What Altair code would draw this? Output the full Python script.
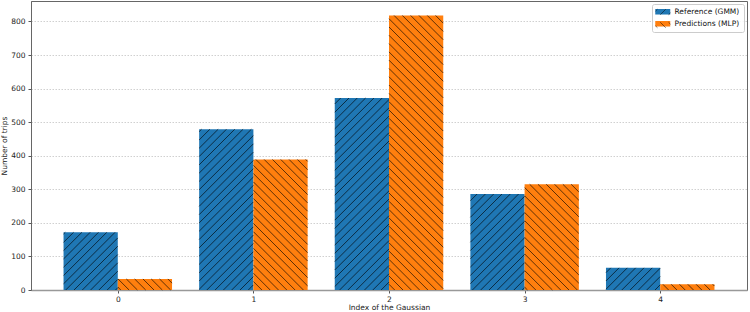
import math
import altair as alt
import pandas as pd

# ---------------- data ----------------
gaussian_index = [0, 1, 2, 3, 4]
reference_gmm = [172, 479, 572, 286, 66]
predictions_mlp = [33, 389, 818, 315, 17]
series_names = ["Reference (GMM)", "Predictions (MLP)"]
series_codes = ["GMM", "MLP"]
series_colors = ["#1f77b4", "#ff7f0e"]
y_ticks = [0, 100, 200, 300, 400, 500, 600, 700, 800]

# ---------------- layout ----------------
W, H = 716, 289
X_DOM = [-0.64, 4.64]
Y_DOM = [0, 861]
BAR_W = 0.4
HATCH_STEP = 8.3
FONT = "DejaVu Sans"
FS = 7.5

rows = []
for i, g in enumerate(gaussian_index):
    rows.append(dict(series=series_names[0], code=series_codes[0], x0=g - BAR_W, x1=g,
                     value=reference_gmm[i], base=0))
    rows.append(dict(series=series_names[1], code=series_codes[1], x0=g, x1=g + BAR_W,
                     value=predictions_mlp[i], base=0))
bars_df = pd.DataFrame(rows)

kx = W / (X_DOM[1] - X_DOM[0])
ky = H / (Y_DOM[1] - Y_DOM[0])


def to_px(xd, yd):
    return (xd - X_DOM[0]) * kx, H - (yd - Y_DOM[0]) * ky


def to_data(xp, yp):
    return X_DOM[0] + xp / kx, Y_DOM[0] + (H - yp) / ky


# hatch segments computed from the bars (45 degrees in screen space)
hatch = []
for r in rows:
    xa, yt = to_px(r["x0"], r["value"])
    xb, yb = to_px(r["x1"], 0)
    s = HATCH_STEP
    segs = []
    if r["code"] == "GMM":  # '/' : x + y = c
        k = math.ceil((xa + yt) / s)
        while k * s <= xb + yb:
            c = k * s
            lo, hi = max(xa, c - yb), min(xb, c - yt)
            if hi - lo > 0.3:
                segs.append((lo, c - lo, hi, c - hi))
            k += 1
    else:  # '\' : y = x - c
        k = math.ceil((xa - yb) / s)
        while k * s <= xb - yt:
            c = k * s
            lo, hi = max(xa, yt + c), min(xb, yb + c)
            if hi - lo > 0.3:
                segs.append((lo, lo - c, hi, hi - c))
            k += 1
    for (x1p, y1p, x2p, y2p) in segs:
        a = to_data(x1p, y1p)
        b = to_data(x2p, y2p)
        hatch.append(dict(x0=a[0], value=a[1], x1=b[0], value2=b[1]))
hatch_df = pd.DataFrame(hatch)

xscale = alt.Scale(domain=X_DOM, nice=False, zero=False)
yscale = alt.Scale(domain=Y_DOM, nice=False, zero=False)
x_axis = alt.Axis(values=gaussian_index, format="d", title="Index of the Gaussian", grid=False)
y_axis = alt.Axis(values=y_ticks, format="d", title="Number of trips", grid=True)

# legend symbol paths (unit scaled by sqrt(size)/2)
SYM = 49
rect_path = "M-2.14,-0.79H2.14V0.79H-2.14Z"
slash_path = "M-0.79,0.79L0.79,-0.79M1.58,0.79L2.14,0.23M-2.14,-0.23L-1.58,-0.79"
bslash_path = "M-0.79,-0.79L0.79,0.79M1.58,-0.79L2.14,-0.23M-2.14,0.23L-1.58,0.79"

LEG_X = 621
LEG_Y = 3
common_leg = dict(
    orient="none", legendX=LEG_X, legendY=LEG_Y, title=None,
    labelFont=FONT, labelFontSize=FS, symbolSize=SYM,
    padding=4, rowPadding=3, labelOffset=8, symbolOffset=3,
)

bars = alt.Chart(bars_df).mark_rect().encode(
    x=alt.X("x0:Q", scale=xscale, axis=x_axis),
    x2="x1:Q",
    y=alt.Y("value:Q", scale=yscale, axis=y_axis),
    y2="base:Q",
    fill=alt.Fill("series:N", scale=alt.Scale(domain=series_names, range=series_colors),
                  legend=alt.Legend(symbolType=rect_path, fillColor="rgba(255,255,255,0.85)",
                                    strokeColor="#cccccc", cornerRadius=2, symbolStrokeWidth=0,
                                    labelColor="#111", **common_leg)),
)

hatch_layer = alt.Chart(hatch_df).mark_rule(color="black", strokeWidth=0.7, opacity=0.9).encode(
    x=alt.X("x0:Q", scale=xscale, axis=x_axis),
    x2="x1:Q",
    y=alt.Y("value:Q", scale=yscale, axis=y_axis),
    y2="value2:Q",
)

legend_hatch = alt.Chart(bars_df).transform_filter("datum.value < 0").mark_point(
    filled=False, color="black", strokeWidth=0.7
).encode(
    x=alt.X("x0:Q", scale=xscale, axis=x_axis),
    y=alt.Y("value:Q", scale=yscale, axis=y_axis),
    shape=alt.Shape("code:N", scale=alt.Scale(domain=series_codes, range=[slash_path, bslash_path]),
                    legend=alt.Legend(symbolStrokeColor="black", symbolStrokeWidth=0.7,
                                      symbolFillColor="transparent", labelExpr="''",
                                      **common_leg)),
)

chart = alt.layer(bars, hatch_layer, legend_hatch).properties(
    width=W, height=H,
    autosize=alt.AutoSizeParams(type="none"),
    padding={"left": 31, "top": 1, "right": 3, "bottom": 22},
).configure_view(
    stroke="#666666", strokeWidth=1
).configure_axis(
    labelFont=FONT, labelFontSize=FS, labelColor="#222", titleFont=FONT, titleFontSize=FS,
    titleFontWeight="normal", titleColor="#222", tickColor="#555", tickSize=3, labelPadding=3,
    domainColor="#666", gridColor="#c4c4c4", gridDash=[1.5, 1.5], gridWidth=0.8,
).configure_axisX(
    domainColor="#999", domainWidth=1.5, titlePadding=0.5, labelPadding=2.5,
).configure_axisY(
    titlePadding=2.5,
)

chart.save("out.html", embed_options={"renderer": "svg", "actions": False})
